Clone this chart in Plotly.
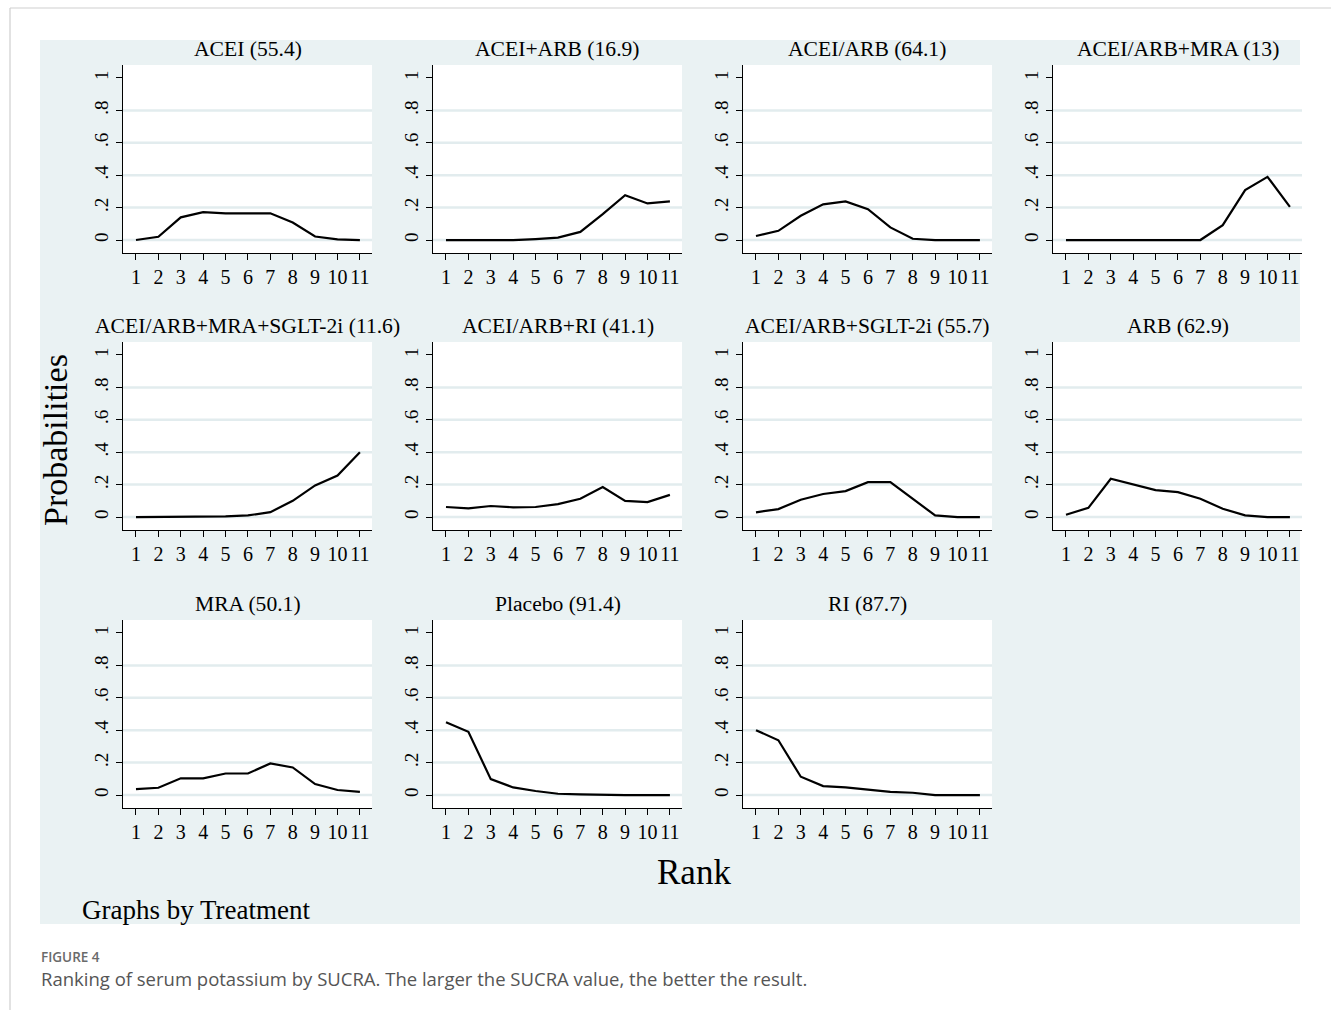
import plotly.graph_objects as go

# Rank probabilities for each treatment (ranks 1..11)
ranks = list(range(1, 12))

treatments = [
    "ACEI", "ACEI+ARB", "ACEI/ARB", "ACEI/ARB+MRA",
    "ACEI/ARB+MRA+SGLT-2i", "ACEI/ARB+RI", "ACEI/ARB+SGLT-2i", "ARB",
    "MRA", "Placebo", "RI",
]
sucra = [55.4, 16.9, 64.1, 13, 11.6, 41.1, 55.7, 62.9, 50.1, 91.4, 87.7]

p_acei = [0.0, 0.02, 0.14, 0.172, 0.165, 0.165, 0.165, 0.108, 0.022, 0.004, 0.0]
p_acei_arb = [0.0, 0.0, 0.0, 0.0, 0.006, 0.015, 0.05, 0.16, 0.277, 0.226, 0.238]
p_acei_or_arb = [0.025, 0.057, 0.15, 0.22, 0.238, 0.19, 0.078, 0.008, 0.0, 0.0, 0.0]
p_acei_arb_mra = [0.0, 0.0, 0.0, 0.0, 0.0, 0.0, 0.0, 0.092, 0.308, 0.39, 0.205]
p_acei_arb_mra_sglt2 = [0.0, 0.0, 0.0, 0.0, 0.004, 0.01, 0.03, 0.10, 0.195, 0.256, 0.40]
p_acei_arb_ri = [0.062, 0.053, 0.068, 0.06, 0.062, 0.08, 0.113, 0.185, 0.10, 0.092, 0.137]
p_acei_arb_sglt2 = [0.029, 0.049, 0.107, 0.142, 0.16, 0.215, 0.215, 0.113, 0.01, 0.0, 0.0]
p_arb = [0.014, 0.057, 0.236, 0.199, 0.166, 0.154, 0.113, 0.051, 0.01, 0.0, 0.0]
p_mra = [0.037, 0.045, 0.103, 0.103, 0.133, 0.133, 0.195, 0.17, 0.068, 0.031, 0.02]
p_placebo = [0.449, 0.39, 0.098, 0.047, 0.025, 0.008, 0.004, 0.0, 0.0, 0.0, 0.0]
p_ri = [0.40, 0.338, 0.113, 0.055, 0.047, 0.035, 0.02, 0.014, 0.0, 0.0, 0.0]

probabilities = [
    p_acei, p_acei_arb, p_acei_or_arb, p_acei_arb_mra,
    p_acei_arb_mra_sglt2, p_acei_arb_ri, p_acei_arb_sglt2, p_arb,
    p_mra, p_placebo, p_ri,
]

y_tickvals = [0, 0.2, 0.4, 0.6, 0.8, 1]
y_ticktext = ["0", ".2", ".4", ".6", ".8", "1"]
grid_vals = [0, 0.2, 0.4, 0.6, 0.8]

W, H = 1331, 1010
SERIF = "Liberation Serif, Times New Roman, serif"
SANS = "Open Sans, sans-serif"
BG_BLUE = "#eaf2f3"
GRID = "#e2ecee"

# panel geometry in pixels
col_left = [123, 433, 743, 1053]
col_width = 249
row_top = [65, 342, 620]
row_height = 188

fig = go.Figure()
layout = dict(
    width=W, height=H,
    margin=dict(l=0, r=0, t=0, b=0),
    paper_bgcolor=BG_BLUE,
    plot_bgcolor="white",
    showlegend=False,
    font=dict(family=SERIF, color="black"),
)
annotations = []
shapes = []

# white page around the graph region
for x0, y0, x1, y1 in [(0, 0, W, 40), (0, 0, 40, H), (1300, 0, W, H), (0, 924, W, H)]:
    shapes.append(dict(type="rect", xref="paper", yref="paper",
                       x0=x0 / W, x1=x1 / W, y0=1 - y1 / H, y1=1 - y0 / H,
                       fillcolor="white", line=dict(width=0), layer="below"))
# page frame
shapes.append(dict(type="line", xref="paper", yref="paper",
                   x0=10 / W, x1=1, y0=1 - 8 / H, y1=1 - 8 / H,
                   line=dict(color="#cfcfcf", width=1.2)))
shapes.append(dict(type="line", xref="paper", yref="paper",
                   x0=10 / W, x1=10 / W, y0=0, y1=1 - 8 / H,
                   line=dict(color="#cfcfcf", width=1.2)))

for i, (name, s, probs) in enumerate(zip(treatments, sucra, probabilities)):
    r, c = divmod(i, 4)
    k = i + 1
    xa = "x" if k == 1 else f"x{k}"
    ya = "y" if k == 1 else f"y{k}"
    x0 = col_left[c] / W
    x1 = (col_left[c] + col_width) / W
    y1 = 1 - row_top[r] / H
    y0 = 1 - (row_top[r] + row_height) / H

    fig.add_trace(go.Scatter(x=ranks, y=probs, mode="lines",
                             line=dict(color="black", width=2.2),
                             xaxis=xa, yaxis=ya, hoverinfo="skip"))

    layout["xaxis" if k == 1 else f"xaxis{k}"] = dict(
        domain=[x0, x1], anchor=ya, range=[0.42, 11.54],
        tickmode="array", tickvals=ranks, ticktext=[str(v) for v in ranks],
        ticks="outside", ticklen=6, tickwidth=1, tickcolor="black",
        showline=True, linecolor="black", linewidth=1,
        showgrid=False, zeroline=False,
        tickfont=dict(family=SERIF, size=20, color="black"),
    )
    layout["yaxis" if k == 1 else f"yaxis{k}"] = dict(
        domain=[y0, y1], anchor=xa, range=[-0.08, 1.08],
        tickmode="array", tickvals=y_tickvals, ticktext=y_ticktext,
        tickangle=-90,
        ticks="outside", ticklen=6, tickwidth=1, tickcolor="black",
        showline=True, linecolor="black", linewidth=1,
        showgrid=False, zeroline=False,
        tickfont=dict(family=SERIF, size=19, color="black"),
    )

    for g in grid_vals:
        shapes.append(dict(type="line", xref=f"{xa} domain", yref=ya,
                           x0=0, x1=1, y0=g, y1=g,
                           line=dict(color=GRID, width=2.5), layer="below"))

    annotations.append(dict(
        text=f"{name} ({s:g})", x=(x0 + x1) / 2, y=1 - (row_top[r] - 16.5) / H,
        xref="paper", yref="paper", xanchor="center", yanchor="middle",
        showarrow=False, font=dict(family=SERIF, size=21.6, color="black")))

annotations += [
    dict(text="Probabilities", x=56 / W, y=1 - 440 / H, xref="paper", yref="paper",
         textangle=-90, showarrow=False, xanchor="center", yanchor="middle",
         font=dict(family=SERIF, size=34, color="black")),
    dict(text="Rank", x=694 / W, y=1 - 872 / H, xref="paper", yref="paper",
         showarrow=False, xanchor="center", yanchor="middle",
         font=dict(family=SERIF, size=35, color="black")),
    dict(text="Graphs by Treatment", x=80 / W, y=1 - 910 / H, xref="paper", yref="paper",
         showarrow=False, xanchor="left", yanchor="middle",
         font=dict(family=SERIF, size=27, color="black")),
    dict(text="FIGURE 4", x=40 / W, y=1 - 957 / H, xref="paper", yref="paper",
         showarrow=False, xanchor="left", yanchor="middle", borderpad=0,
         font=dict(family=SANS, size=13.5, color="#6a6a6a", weight=600)),
    dict(text="Ranking of serum potassium by SUCRA. The larger the SUCRA value, the better the result.",
         x=40 / W, y=1 - 978 / H, xref="paper", yref="paper",
         showarrow=False, xanchor="left", yanchor="middle", borderpad=0,
         font=dict(family=SANS, size=18.5, color="#555555")),
]

layout["annotations"] = annotations
layout["shapes"] = shapes
fig.update_layout(**layout)

fig.write_html("out.html")
